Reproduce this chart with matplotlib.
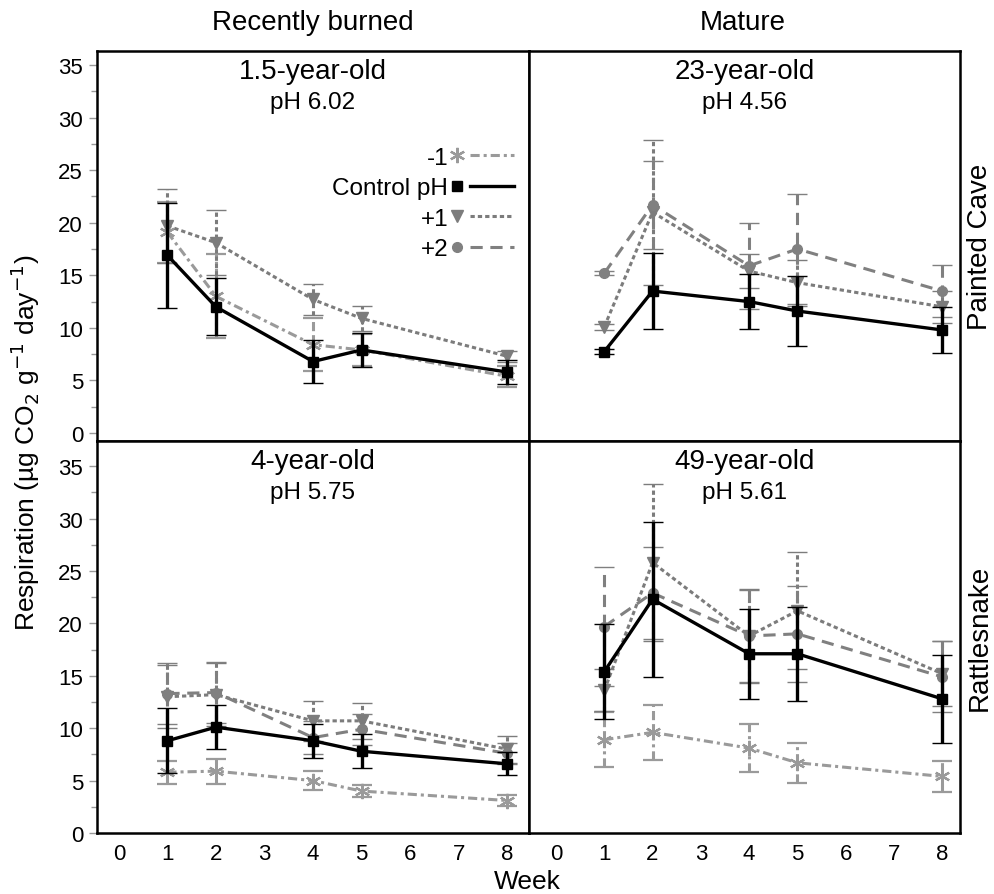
import matplotlib
matplotlib.use("Agg")
import matplotlib.pyplot as plt
from matplotlib.lines import Line2D
from matplotlib.legend_handler import HandlerBase
from matplotlib.ticker import MultipleLocator

plt.rcParams['font.family'] = ['Liberation Sans', 'DejaVu Sans']

weeks = [1, 2, 4, 5, 8]

# Painted Cave, 1.5-year-old (no +2 treatment)
pc15_m1 = [19.1, 13.0, 8.4, 7.9, 5.4]
pc15_m1_err = [2.9, 4.0, 2.5, 1.5, 1.0]
pc15_ctrl = [16.9, 12.0, 6.8, 7.9, 5.8]
pc15_ctrl_err = [5.0, 2.7, 2.0, 1.6, 1.1]
pc15_p1 = [19.7, 18.1, 12.7, 10.9, 7.3]
pc15_p1_err = [3.5, 3.1, 1.5, 1.2, 0.5]

# Painted Cave, 23-year-old (no -1 treatment)
pc23_ctrl = [7.75, 13.5, 12.5, 11.6, 9.8]
pc23_ctrl_err = [0.2, 3.6, 2.6, 3.3, 2.2]
pc23_p1 = [10.1, 21.0, 15.4, 14.3, 12.0]
pc23_p1_err = [0.3, 6.9, 1.6, 2.2, 1.5]
pc23_p2 = [15.2, 21.7, 15.9, 17.5, 13.5]
pc23_p2_err = [0.2, 4.2, 4.1, 5.2, 2.5]

# Rattlesnake, 4-year-old
rs4_m1 = [5.8, 5.9, 5.0, 4.0, 3.1]
rs4_m1_err = [1.1, 1.2, 0.9, 0.6, 0.5]
rs4_ctrl = [8.8, 10.1, 8.8, 7.8, 6.6]
rs4_ctrl_err = [3.1, 2.1, 1.6, 1.6, 1.1]
rs4_p1 = [13.0, 13.2, 10.7, 10.7, 8.0]
rs4_p1_err = [3.0, 3.0, 1.9, 1.7, 1.3]
rs4_p2 = [13.3, 13.4, 9.1, 9.9, 7.6]
rs4_p2_err = [2.9, 2.9, 1.6, 1.5, 1.0]

# Rattlesnake, 49-year-old
rs49_m1 = [8.9, 9.6, 8.1, 6.7, 5.4]
rs49_m1_err = [2.6, 2.6, 2.3, 1.9, 1.5]
rs49_ctrl = [15.4, 22.3, 17.1, 17.1, 12.8]
rs49_ctrl_err = [4.5, 7.4, 4.3, 4.5, 4.2]
rs49_p1 = [13.6, 25.8, 18.8, 21.2, 15.2]
rs49_p1_err = [2.0, 7.5, 4.5, 5.6, 3.1]
rs49_p2 = [19.7, 22.9, 18.8, 19.0, 14.9]
rs49_p2_err = [5.7, 4.4, 4.4, 4.6, 3.4]

titles = ['1.5-year-old', '23-year-old', '4-year-old', '49-year-old']
ph_labels = ['pH 6.02', 'pH 4.56', 'pH 5.75', 'pH 5.61']
col_labels = ['Recently burned', 'Mature']
row_labels = ['Painted Cave', 'Rattlesnake']
treatments = ['-1', 'Control pH', '+1', '+2']

styles = {
    '-1': dict(color='#9a9a9a', marker=(6, 2, 0), ms=11, mew=1.6, ls=(0, (3, 1.3, 1, 1.3)), z=2),
    'Control pH': dict(color='black', marker='s', ms=7, mew=1.0, ls='-', z=5),
    '+1': dict(color='#7c7c7c', marker='v', ms=8, mew=1.0, ls=(0, (1.4, 1.0)), z=3),
    '+2': dict(color='#808080', marker='o', ms=7, mew=1.0, ls=(0, (4, 2.5)), z=3),
}

panels = [
    {'-1': (pc15_m1, pc15_m1_err), 'Control pH': (pc15_ctrl, pc15_ctrl_err),
     '+1': (pc15_p1, pc15_p1_err)},
    {'Control pH': (pc23_ctrl, pc23_ctrl_err), '+1': (pc23_p1, pc23_p1_err),
     '+2': (pc23_p2, pc23_p2_err)},
    {'-1': (rs4_m1, rs4_m1_err), 'Control pH': (rs4_ctrl, rs4_ctrl_err),
     '+1': (rs4_p1, rs4_p1_err), '+2': (rs4_p2, rs4_p2_err)},
    {'-1': (rs49_m1, rs49_m1_err), 'Control pH': (rs49_ctrl, rs49_ctrl_err),
     '+1': (rs49_p1, rs49_p1_err), '+2': (rs49_p2, rs49_p2_err)},
]


class MarkerThenLine(HandlerBase):
    # marker on the left, line segment to its right
    def create_artists(self, legend, orig_handle, xdescent, ydescent,
                       width, height, fontsize, trans):
        y = height / 2 - ydescent
        x0 = -xdescent
        mk = Line2D([x0 + 0.1 * width], [y])
        mk.update_from(orig_handle)
        mk.set_linestyle('None')
        ln = Line2D([x0 + 0.3 * width, x0 + width], [y, y])
        ln.update_from(orig_handle)
        ln.set_marker('None')
        mk.set_transform(trans)
        ln.set_transform(trans)
        return [mk, ln]


fig = plt.figure(figsize=(9.95, 8.95), dpi=100)
W, H = 995.0, 895.0
boxes = [(97, 52, 529, 442), (529, 52, 960, 442),
         (97, 442, 529, 834), (529, 442, 960, 834)]
xlims = [(-0.45, 8.45), (-0.56, 8.37), (-0.45, 8.45), (-0.56, 8.37)]
ylims = [(-0.76, 36.33), (-0.76, 36.33), (0, 37.4), (0, 37.4)]

axes = []
for i, (x0, y0, x1, y1) in enumerate(boxes):
    ax = fig.add_axes([x0 / W, 1 - y1 / H, (x1 - x0) / W, (y1 - y0) / H])
    axes.append(ax)
    for name in ['-1', '+1', '+2', 'Control pH']:
        if name not in panels[i]:
            continue
        vals, err = panels[i][name]
        st = styles[name]
        lw = 2.4 if name == 'Control pH' else 2.2
        eb = ax.errorbar(weeks, vals, yerr=err, color=st['color'], marker=st['marker'],
                         markersize=st['ms'], markeredgewidth=st['mew'], linestyle=st['ls'],
                         linewidth=lw, elinewidth=lw, capsize=7.5, capthick=lw,
                         zorder=st['z'])
        eb[2][0].set_linestyle(st['ls'])

    ax.set_xlim(*xlims[i])
    ax.set_ylim(*ylims[i])
    for sp in ax.spines.values():
        sp.set_linewidth(1.8)
    ax.set_xticks(range(0, 9))
    ax.yaxis.set_major_locator(MultipleLocator(5))
    ax.yaxis.set_minor_locator(MultipleLocator(2.5))
    ax.tick_params(axis='x', length=0, pad=7, labelsize=16)
    ax.tick_params(axis='y', which='major', length=6, width=1, color='#999999',
                   labelsize=16, pad=4)
    ax.tick_params(axis='y', which='minor', length=4, width=1, color='#999999')
    if i % 2 == 1:
        ax.tick_params(axis='y', which='both', length=0, labelleft=False)
    if i < 2:
        ax.tick_params(axis='x', labelbottom=False)

    ax.text(0.5, 0.949, titles[i], transform=ax.transAxes, ha='center', va='center',
            fontsize=20)
    ax.text(0.5, 0.869, ph_labels[i], transform=ax.transAxes, ha='center', va='center',
            fontsize=17.5)

# legend in the first panel
handles = []
for name in treatments:
    st = styles[name]
    h = Line2D([], [], color=st['color'], marker=st['marker'], markersize=st['ms'],
               markeredgewidth=st['mew'], linestyle=st['ls'],
               linewidth=2.4 if name == 'Control pH' else 2.2)
    handles.append(h)
axes[0].legend(handles, treatments, loc='upper right', bbox_to_anchor=(0.965, 0.755),
               frameon=False, markerfirst=False, fontsize=17.5, handlelength=2.6,
               handletextpad=0.1, labelspacing=0.35, borderpad=0, borderaxespad=0,
               handler_map={Line2D: MarkerThenLine()})

fig.text(313 / W, 1 - 23 / H, col_labels[0], ha='center', va='center', fontsize=20)
fig.text(743 / W, 1 - 23 / H, col_labels[1], ha='center', va='center', fontsize=20)
fig.text(980 / W, 1 - 247 / H, row_labels[0], ha='center', va='center', rotation=90,
         fontsize=20)
fig.text(980 / W, 1 - 638 / H, row_labels[1], ha='center', va='center', rotation=90,
         fontsize=20)
fig.text(25 / W, 1 - 443 / H, r'Respiration (µg CO$_2$ g$^{-1}$ day$^{-1}$)',
         ha='center', va='center', rotation=90, fontsize=19)
fig.text(527 / W, 1 - 882 / H, 'Week', ha='center', va='center', fontsize=19)

fig.savefig('out.png', dpi=100)
